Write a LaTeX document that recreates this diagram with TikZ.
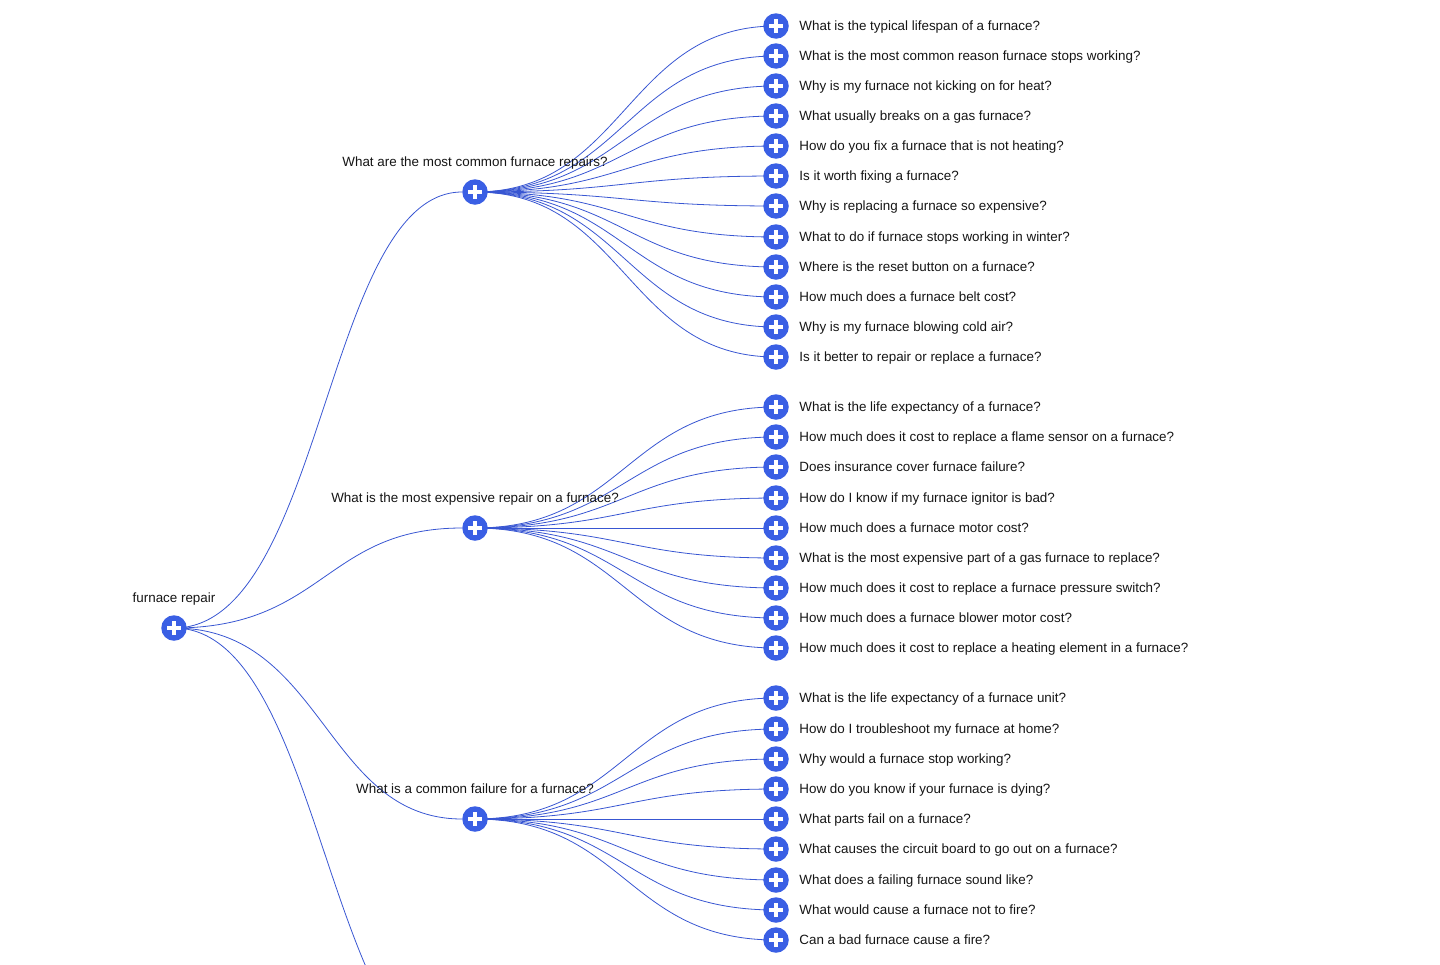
\documentclass[tikz,border=0pt]{standalone}
\usepackage{fontspec}
\setmainfont{Liberation Sans}
\usetikzlibrary{positioning,backgrounds,calc}
\definecolor{plusblue}{HTML}{3A5FE4}
\definecolor{linkblue}{HTML}{3856D2}
\definecolor{qtextgrey}{HTML}{151515}

\tikzset{
  plus/.style={circle, fill=plusblue, minimum size=25.5pt, inner sep=0pt,
    path picture={\draw[white, line width=3.2pt]
      ($(path picture bounding box.center)+(-7pt,0)$) -- ++(14pt,0)
      ($(path picture bounding box.center)+(0,-7pt)$) -- ++(0,14pt);}},
  qtext/.style={font=\fontsize{13.4}{15}\selectfont, text=qtextgrey, inner sep=0pt,
    text height=8pt, text depth=0pt},
  leaf/.style={plus, label={[qtext, label distance=10.3pt]right:#1}},
  branch/.style={plus, label={[qtext, label distance=12pt]above:#1}},
  link/.style={draw=linkblue, line width=0.8pt}
}

\begin{document}
\begin{tikzpicture}[x=1pt, y=-1pt]
  \useasboundingbox (0,0) rectangle (1440,964);
  % root and first level
  \node[branch={furnace repair}] (root) at (174,628) {};
  \node[branch={What are the most common furnace repairs?}] (q1) at (475,192) {};
  \node[branch={What is the most expensive repair on a furnace?}] (q2) at (475,528) {};
  \node[branch={What is a common failure for a furnace?}] (q3) at (475,819) {};
  \coordinate (q4) at (475,1078);

  % first group
  \node[leaf={What is the typical lifespan of a furnace?}] (a1) at (776,26) {};
  \node[leaf={What is the most common reason furnace stops working?}] (a2) at (776,56) {};
  \node[leaf={Why is my furnace not kicking on for heat?}] (a3) at (776,86) {};
  \node[leaf={What usually breaks on a gas furnace?}] (a4) at (776,116) {};
  \node[leaf={How do you fix a furnace that is not heating?}] (a5) at (776,146) {};
  \node[leaf={Is it worth fixing a furnace?}] (a6) at (776,176) {};
  \node[leaf={Why is replacing a furnace so expensive?}] (a7) at (776,206) {};
  \node[leaf={What to do if furnace stops working in winter?}] (a8) at (776,237) {};
  \node[leaf={Where is the reset button on a furnace?}] (a9) at (776,267) {};
  \node[leaf={How much does a furnace belt cost?}] (a10) at (776,297) {};
  \node[leaf={Why is my furnace blowing cold air?}] (a11) at (776,327) {};
  \node[leaf={Is it better to repair or replace a furnace?}] (a12) at (776,357) {};

  % second group
  \node[leaf={What is the life expectancy of a furnace?}] (b1) at (776,407) {};
  \node[leaf={How much does it cost to replace a flame sensor on a furnace?}] (b2) at (776,437) {};
  \node[leaf={Does insurance cover furnace failure?}] (b3) at (776,467) {};
  \node[leaf={How do I know if my furnace ignitor is bad?}] (b4) at (776,498) {};
  \node[leaf={How much does a furnace motor cost?}] (b5) at (776,528) {};
  \node[leaf={What is the most expensive part of a gas furnace to replace?}] (b6) at (776,558) {};
  \node[leaf={How much does it cost to replace a furnace pressure switch?}] (b7) at (776,588) {};
  \node[leaf={How much does a furnace blower motor cost?}] (b8) at (776,618) {};
  \node[leaf={How much does it cost to replace a heating element in a furnace?}] (b9) at (776,648) {};

  % third group
  \node[leaf={What is the life expectancy of a furnace unit?}] (c1) at (776,698) {};
  \node[leaf={How do I troubleshoot my furnace at home?}] (c2) at (776,729) {};
  \node[leaf={Why would a furnace stop working?}] (c3) at (776,759) {};
  \node[leaf={How do you know if your furnace is dying?}] (c4) at (776,789) {};
  \node[leaf={What parts fail on a furnace?}] (c5) at (776,819) {};
  \node[leaf={What causes the circuit board to go out on a furnace?}] (c6) at (776,849) {};
  \node[leaf={What does a failing furnace sound like?}] (c7) at (776,880) {};
  \node[leaf={What would cause a furnace not to fire?}] (c8) at (776,910) {};
  \node[leaf={Can a bad furnace cause a fire?}] (c9) at (776,940) {};

  \begin{scope}[on background layer]
    \clip (0,0) rectangle (1440,964);
    \foreach \q in {q1,q2,q3,q4}
      \draw[link] (root.center) .. controls +(150,0) and +(-150,0) .. (\q);
    \foreach \a in {a1,a2,a3,a4,a5,a6,a7,a8,a9,a10,a11,a12}
      \draw[link] (q1.center) .. controls +(150,0) and +(-150,0) .. (\a.center);
    \foreach \b in {b1,b2,b3,b4,b5,b6,b7,b8,b9}
      \draw[link] (q2.center) .. controls +(150,0) and +(-150,0) .. (\b.center);
    \foreach \c in {c1,c2,c3,c4,c5,c6,c7,c8,c9}
      \draw[link] (q3.center) .. controls +(150,0) and +(-150,0) .. (\c.center);
  \end{scope}
\end{tikzpicture}
\end{document}
